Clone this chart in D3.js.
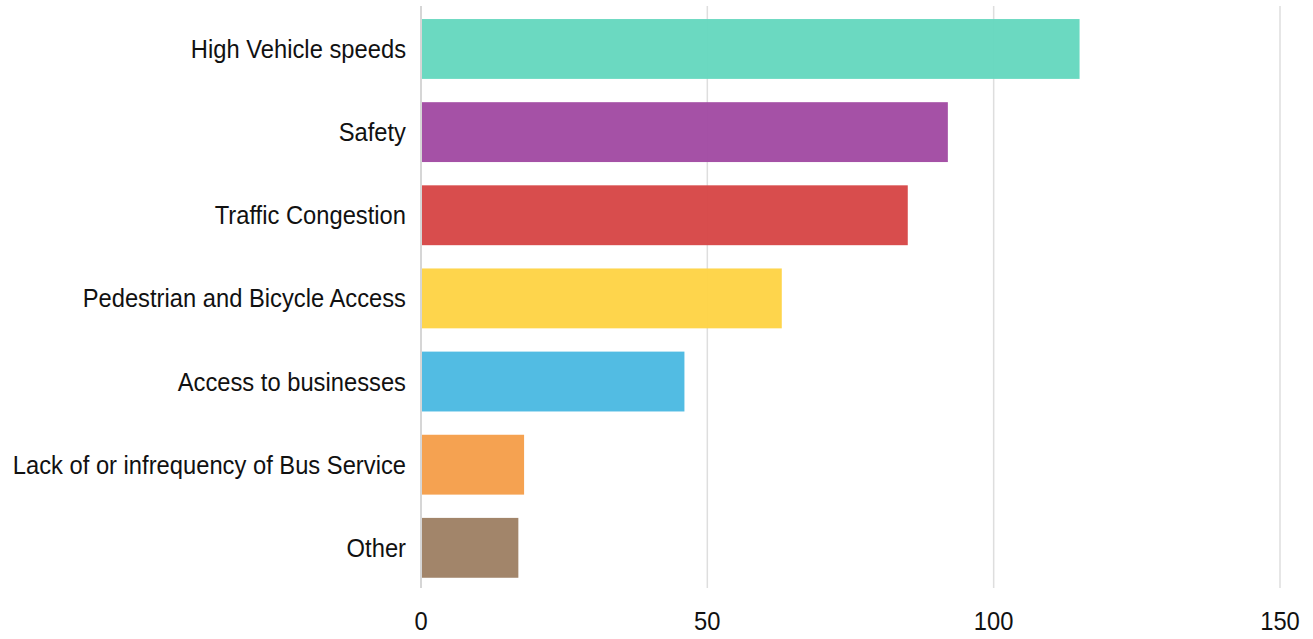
<!DOCTYPE html>
<html>
<head>
<meta charset="utf-8">
<script src="https://cdn.jsdelivr.net/npm/d3@7"></script>
<style>
  body { margin: 0; background: #fff; }
  text { font-family: "Liberation Sans", Arial, sans-serif; fill: #111; }
</style>
</head>
<body>
<div id="chart"></div>
<script>
// data
var categories = ["High Vehicle speeds", "Safety", "Traffic Congestion", "Pedestrian and Bicycle Access",
                  "Access to businesses", "Lack of or infrequency of Bus Service", "Other"];
var values = [115, 92, 85, 63, 46, 18, 17];
var colors = ["#66d8bf", "#a24ba3", "#d74747", "#fed446", "#4cbae2", "#f59f4b", "#9f8165"];
var tickValues = [0, 50, 100, 150];

var W = 1313, H = 639;
var margin = {top: 6, right: 33, bottom: 51, left: 421};
var width = W - margin.left - margin.right,
    height = H - margin.top - margin.bottom;

var svg = d3.select("#chart").append("svg")
    .attr("width", W).attr("height", H)
  .append("g")
    .attr("transform", "translate(" + margin.left + "," + margin.top + ")");

var x = d3.scaleLinear().domain([0, 150]).range([0, 859]);
var y = d3.scaleBand().domain(categories).range([1.4, height + 1.4])
    .paddingInner(0.28).paddingOuter(0.14);

// gridlines
svg.selectAll(".grid")
  .data(tickValues)
  .enter().append("line")
    .attr("x1", d => x(d)).attr("x2", d => x(d))
    .attr("y1", 0).attr("y2", height)
    .attr("stroke", d => d === 0 ? "#c8c8c8" : "#dedede")
    .attr("stroke-width", 1.5);

// bars
svg.selectAll(".bar")
  .data(values)
  .enter().append("rect")
    .attr("x", x(0) + 1)
    .attr("y", (d, i) => y(categories[i]))
    .attr("width", d => x(d) - x(0) - 1)
    .attr("height", y.bandwidth())
    .attr("fill", (d, i) => colors[i])
    .attr("fill-opacity", 0.97);

// y labels (slightly condensed)
svg.selectAll(".ylab")
  .data(categories)
  .enter().append("text")
    .attr("transform", d => "translate(-15," + (y(d) + y.bandwidth() / 2) + ") scale(0.95,1)")
    .attr("dy", "0.36em")
    .attr("text-anchor", "end")
    .style("font-size", "25px")
    .text(d => d);

// x axis tick labels
svg.selectAll(".xlab")
  .data(tickValues)
  .enter().append("text")
    .attr("transform", d => "translate(" + x(d) + "," + (height + 42) + ") scale(0.95,1)")
    .attr("text-anchor", "middle")
    .style("font-size", "25px")
    .text(d => d);
</script>
</body>
</html>
